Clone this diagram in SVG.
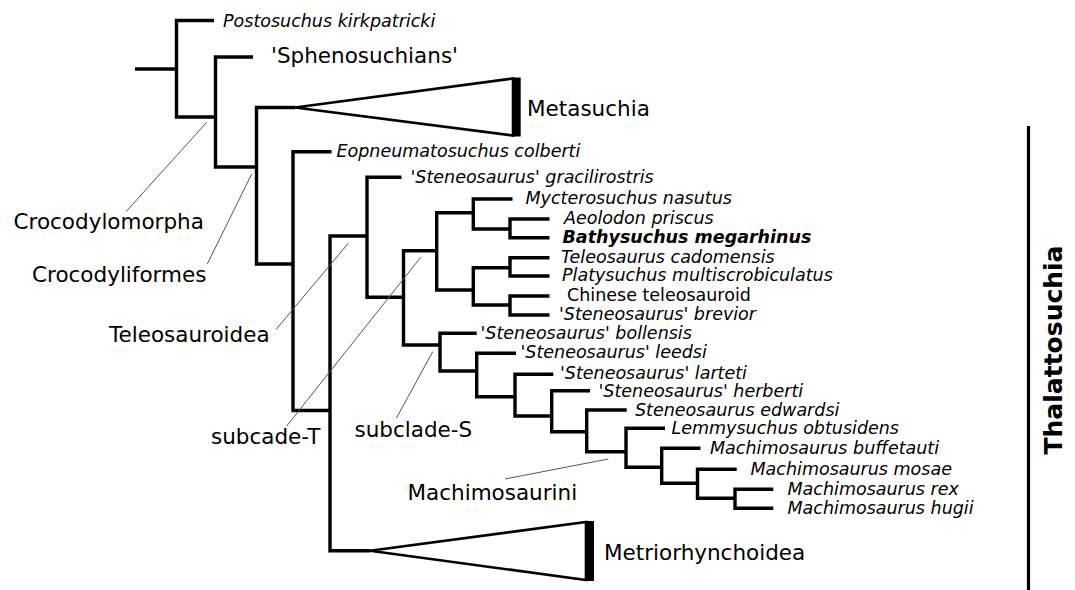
<svg xmlns="http://www.w3.org/2000/svg" width="1075" height="590" viewBox="0 0 1075 590">
<style>
.br{fill:none;stroke:#000;stroke-width:3.4;stroke-linejoin:miter;stroke-linecap:butt}
.ptr{fill:none;stroke:#555;stroke-width:1}
.tri{fill:#fff;stroke:#000;stroke-width:2.6;stroke-linejoin:miter}
.bar{fill:#000}
text{font-family:"DejaVu Sans",Verdana,sans-serif;fill:#000}
.sp{font-size:17.5px;font-style:italic}
.lb{font-size:21.5px}
</style>
<rect width="1075" height="590" fill="#fff"/>
<g id="connectors">
<path class="br" d="M135 69 H176.5"/>
<path class="br" d="M214 20.5 H176.5 V117 H215.5"/>
<path class="br" d="M253 57 H215.5 V167 H256.5"/>
<path class="br" d="M295 107.5 H256.5 V264 H293"/>
<path class="br" d="M331.5 151.7 H293 V410.5 H330"/>
<path class="br" d="M367 236 H330 V550.7 H370"/>
<path class="br" d="M401.5 177.3 H367 V297.3 H403.5"/>
<path class="br" d="M436.7 250.7 H403.5 V345 H440"/>
<path class="br" d="M473.3 212.7 H436.7 V290 H473.3"/>
<path class="br" d="M512.5 199 H473.3 V229 H510"/>
<path class="br" d="M549.5 219 H510 V237.7 H549.5"/>
<path class="br" d="M510 267.7 H473.3 V305 H510"/>
<path class="br" d="M549.5 257.7 H510 V276 H549.5"/>
<path class="br" d="M549.5 296 H510 V315 H549.5"/>
<path class="br" d="M476.7 333.3 H440 V371 H476.7"/>
<path class="br" d="M516 353.3 H476.7 V396.7 H515"/>
<path class="br" d="M553.3 374.3 H515 V416 H551.7"/>
<path class="br" d="M590 390.7 H551.7 V431.7 H586.7"/>
<path class="br" d="M626.7 410 H586.7 V451.7 H626"/>
<path class="br" d="M665 428.3 H626 V467.3 H661.7"/>
<path class="br" d="M700.5 448.3 H661.7 V483.3 H697.5"/>
<path class="br" d="M736.7 469.3 H697.5 V498.3 H735"/>
<path class="br" d="M773.3 489.3 H735 V508.3 H773.3"/>
<line class="ptr" x1="206.7" y1="122.3" x2="126" y2="211.7"/>
<line class="ptr" x1="251.7" y1="174" x2="207.3" y2="264"/>
<line class="ptr" x1="348.3" y1="243.3" x2="276" y2="329.5"/>
<line class="ptr" x1="420.7" y1="257.3" x2="286.7" y2="426"/>
<line class="ptr" x1="432.7" y1="351.7" x2="396.5" y2="418"/>
<line class="ptr" x1="608.3" y1="459" x2="505" y2="479"/>
<line x1="1028.5" y1="126" x2="1028.5" y2="590" stroke="#000" stroke-width="3.2"/>
</g>
<g id="postosuchus"><text class="sp" x="223" y="26.5">Postosuchus kirkpatricki</text></g>
<g id="sphenosuchians"><text class="lb" x="271" y="63">'Sphenosuchians'</text></g>
<g id="metasuchia">
<polygon class="tri" points="295,107.5 513,78.5 513,135.5"/>
<rect class="bar" x="512" y="77.5" width="8.7" height="59"/>
<text class="lb" x="527" y="116">Metasuchia</text>
</g>
<g id="eopneumatosuchus"><text class="sp" x="336.5" y="157.2">Eopneumatosuchus colberti</text></g>
<g id="gracilirostris"><text class="sp" x="410.5" y="182.8">'Steneosaurus' gracilirostris</text></g>
<g id="mycterosuchus"><text class="sp" x="525.5" y="204.3">Mycterosuchus nasutus</text></g>
<g id="aeolodon"><text class="sp" x="564" y="224.3">Aeolodon priscus</text></g>
<g id="bathysuchus"><text class="sp" x="562.5" y="243" font-weight="bold">Bathysuchus megarhinus</text></g>
<g id="teleosaurus"><text class="sp" x="561" y="263">Teleosaurus cadomensis</text></g>
<g id="platysuchus"><text class="sp" x="562" y="281.3">Platysuchus multiscrobiculatus</text></g>
<g id="chinese"><text x="567" y="301.3" font-size="17.5px">Chinese teleosauroid</text></g>
<g id="brevior"><text class="sp" x="559" y="320.3">'Steneosaurus' brevior</text></g>
<g id="bollensis"><text class="sp" x="480.5" y="338.8">'Steneosaurus' bollensis</text></g>
<g id="leedsi"><text class="sp" x="520.5" y="358.3">'Steneosaurus' leedsi</text></g>
<g id="larteti"><text class="sp" x="560" y="378.5">'Steneosaurus' larteti</text></g>
<g id="herberti"><text class="sp" x="598.5" y="396.5">'Steneosaurus' herberti</text></g>
<g id="edwardsi"><text class="sp" x="635" y="415.5">Steneosaurus edwardsi</text></g>
<g id="lemmysuchus"><text class="sp" x="671.5" y="433.8">Lemmysuchus obtusidens</text></g>
<g id="buffetauti"><text class="sp" x="710" y="453.8">Machimosaurus buffetauti</text></g>
<g id="mosae"><text class="sp" x="750.5" y="474.8">Machimosaurus mosae</text></g>
<g id="rex"><text class="sp" x="787.5" y="494.8">Machimosaurus rex</text></g>
<g id="hugii"><text class="sp" x="787.5" y="513.8">Machimosaurus hugii</text></g>
<g id="metriorhynchoidea">
<polygon class="tri" points="370,550.7 586,522 586,580"/>
<rect class="bar" x="585" y="521" width="9" height="60"/>
<text class="lb" x="604" y="559.5">Metriorhynchoidea</text>
</g>
<g id="crocodylomorpha"><text class="lb" x="13.5" y="228.5">Crocodylomorpha</text></g>
<g id="crocodyliformes"><text class="lb" x="32" y="281.5">Crocodyliformes</text></g>
<g id="teleosauroidea"><text class="lb" x="109" y="341.7">Teleosauroidea</text></g>
<g id="subcadeT"><text class="lb" x="211" y="444">subcade-T</text></g>
<g id="subcladeS"><text class="lb" x="354.5" y="436.7">subclade-S</text></g>
<g id="machimosaurini"><text class="lb" x="407.5" y="500">Machimosaurini</text></g>
<g id="thalattosuchia"><text transform="translate(1062,350) rotate(-90)" text-anchor="middle" font-size="25px" font-weight="bold">Thalattosuchia</text></g>
</svg>
